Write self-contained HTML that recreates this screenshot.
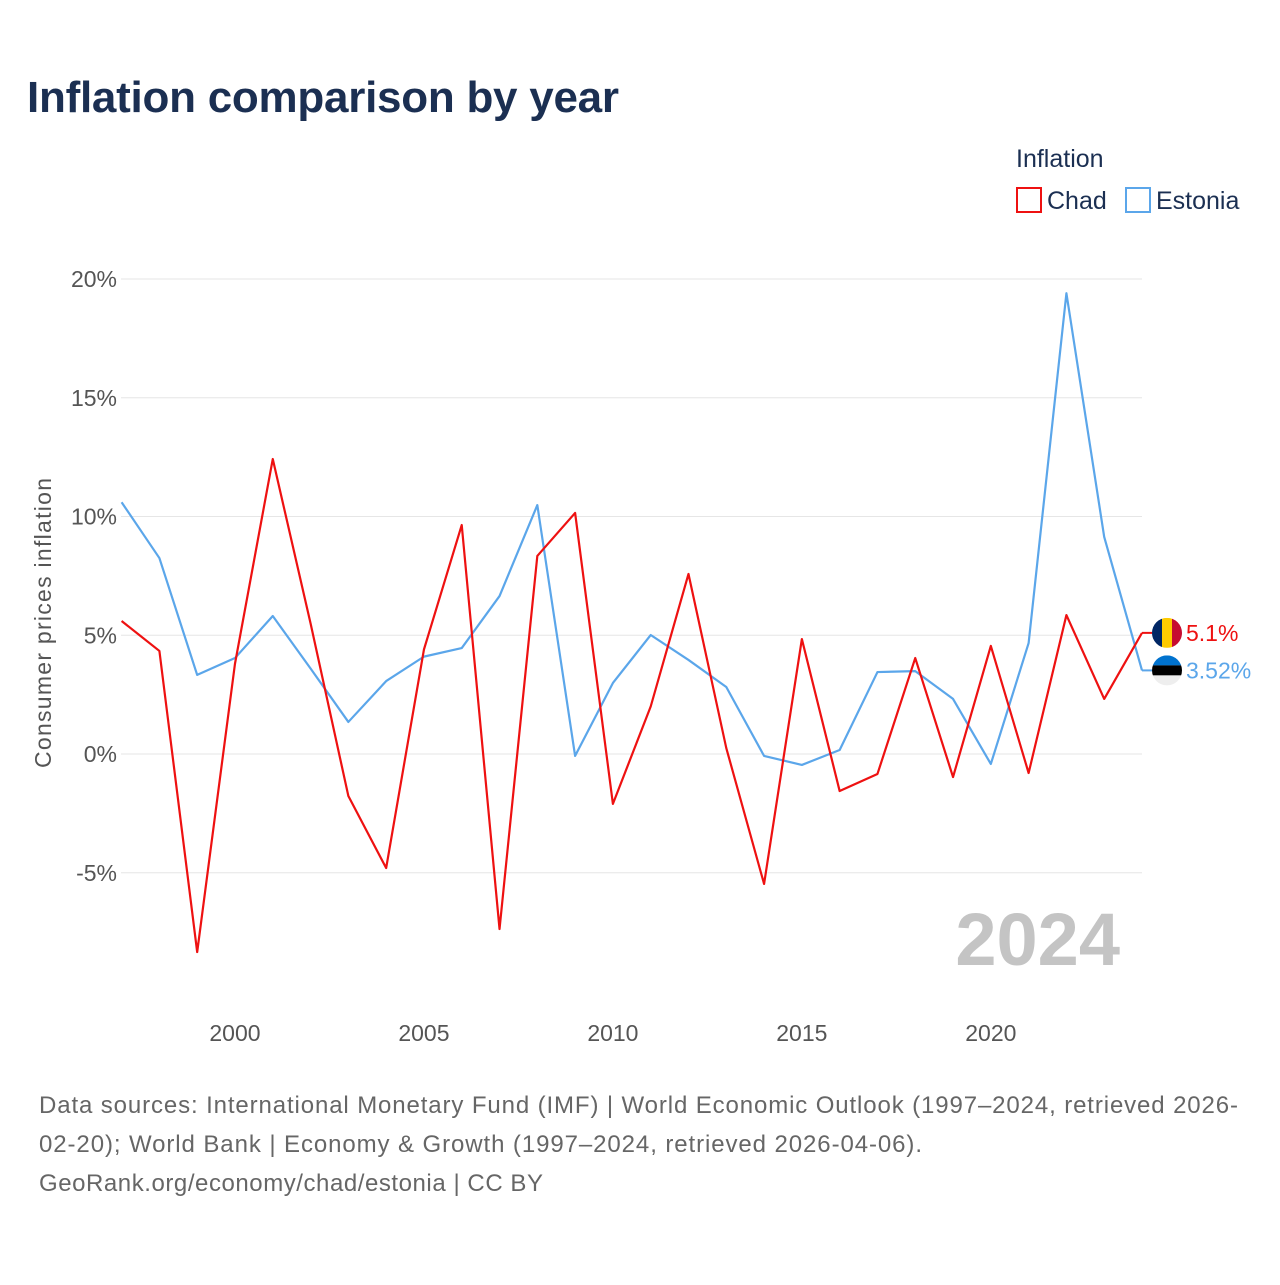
<!DOCTYPE html>
<html><head><meta charset="utf-8"><style>
body{margin:0;background:#fff;font-family:"Liberation Sans",sans-serif}
svg text{font-family:"Liberation Sans",sans-serif}
</style></head><body>
<svg id="chart" width="1280" height="1280" xmlns="http://www.w3.org/2000/svg">
<text x="27" y="112" font-size="44" font-weight="bold" fill="#1b2f52" textLength="592">Inflation comparison by year</text>
<g>
<text x="1016" y="167" font-size="25" fill="#1b2f52">Inflation</text>
<g><rect x="1017" y="188" width="24" height="24" fill="none" stroke="#ee1111" stroke-width="2"/><text x="1047" y="209" font-size="25" fill="#1b2f52">Chad</text></g>
<g><rect x="1126" y="188" width="24" height="24" fill="none" stroke="#5ba6ea" stroke-width="2"/><text x="1156" y="209" font-size="25" fill="#1b2f52">Estonia</text></g>
</g>
<g id="grid"></g>
<g id="yticks"></g>
<g id="xticks"></g>
<text transform="translate(51,623) rotate(-90)" text-anchor="middle" font-size="23" fill="#555" textLength="290">Consumer prices inflation</text>
<text x="1120" y="965" text-anchor="end" font-size="74" font-weight="bold" fill="#c4c4c4">2024</text>
<g id="series"></g>
<g font-size="24" fill="#666">
<text x="39" y="1113" textLength="1199">Data sources: International Monetary Fund (IMF) | World Economic Outlook (1997–2024, retrieved 2026-</text>
<text x="39" y="1152" textLength="883">02-20); World Bank | Economy &amp; Growth (1997–2024, retrieved 2026-04-06).</text>
<text x="39" y="1191" textLength="504">GeoRank.org/economy/chad/estonia | CC BY</text>
</g>
</svg>
<script>
const years=[1997,1998,1999,2000,2001,2002,2003,2004,2005,2006,2007,2008,2009,2010,2011,2012,2013,2014,2015,2016,2017,2018,2019,2020,2021,2022,2023,2024];
const chad=[5.6,4.34,-8.34,3.8,12.42,5.5,-1.77,-4.8,4.4,9.64,-7.37,8.34,10.15,-2.1,2.0,7.58,0.25,-5.47,4.84,-1.56,-0.84,4.04,-0.97,4.55,-0.8,5.85,2.32,5.1];
const estonia=[10.6,8.25,3.33,4.04,5.81,3.6,1.35,3.07,4.1,4.46,6.65,10.48,-0.08,2.99,5.01,3.96,2.82,-0.08,-0.46,0.17,3.45,3.49,2.32,-0.42,4.67,19.4,9.14,3.52];
const yTicks=[-5,0,5,10,15,20];
const xTicks=[2000,2005,2010,2015,2020];
const labels=["5.1%","3.52%"];
const NS="http://www.w3.org/2000/svg";
const x=v=>121.6+(v-1997)*(1142-121.6)/27;
const y=v=>754-v*23.75;
function mk(tag,attrs,parent){const e=document.createElementNS(NS,tag);for(const k in attrs)e.setAttribute(k,attrs[k]);parent.appendChild(e);return e;}
const grid=document.getElementById('grid'),yt=document.getElementById('yticks'),xt=document.getElementById('xticks'),se=document.getElementById('series');
yTicks.forEach(t=>{
 const l=mk('line',{x1:121,x2:1142,y1:y(t),y2:y(t),stroke:'#e6e6e6','stroke-width':1},grid);
 
 
 const tx=mk('text',{x:117,y:y(t)+8,'text-anchor':'end','font-size':23,fill:'#555'},yt);
 tx.textContent=t+'%';
 
 
});
xTicks.forEach(t=>{
 const tx=mk('text',{x:x(t),y:1041,'text-anchor':'middle','font-size':23,fill:'#555'},xt);
 tx.textContent=t;
 
 
});
function line(vals,color,name){
 const p=mk('polyline',{points:vals.map((v,i)=>x(years[i])+','+y(v)).join(' '),fill:'none',stroke:color,'stroke-width':2.2,'stroke-linejoin':'round'},se);
 
 
}
line(estonia,'#5ba6ea','estonia-line');
line(chad,'#ee1111','chad-line');
const last=years.length-1;
const cy1=y(chad[last]),cy2=y(estonia[last]);
mk('line',{x1:x(years[last]),y1:cy1,x2:1152,y2:cy1,stroke:'#ee1111','stroke-width':2},se);
mk('line',{x1:x(years[last]),y1:cy2,x2:1152,y2:cy2,stroke:'#5ba6ea','stroke-width':2},se);
const f1=mk('g',{},se);


const cp1=mk('clipPath',{id:'c1'},f1);mk('circle',{cx:1167,cy:cy1,r:15},cp1);
mk('rect',{x:1152,y:cy1-15,width:10,height:30,fill:'#002664','clip-path':'url(#c1)'},f1);
mk('rect',{x:1162,y:cy1-15,width:10,height:30,fill:'#fecb00','clip-path':'url(#c1)'},f1);
mk('rect',{x:1172,y:cy1-15,width:10,height:30,fill:'#c60c30','clip-path':'url(#c1)'},f1);
const f2=mk('g',{},se);


const cp=mk('clipPath',{id:'c2'},f2);mk('circle',{cx:1167,cy:cy2,r:15},cp);
mk('rect',{x:1152,y:cy2-15,width:30,height:10,fill:'#0072ce','clip-path':'url(#c2)'},f2);
mk('rect',{x:1152,y:cy2-5,width:30,height:10,fill:'#000','clip-path':'url(#c2)'},f2);
mk('rect',{x:1152,y:cy2+5,width:30,height:10,fill:'#eee','clip-path':'url(#c2)'},f2);
const l1=mk('text',{x:1186,y:cy1+8,'font-size':23,fill:'#ee1111'},se);l1.textContent=labels[0];


const l2=mk('text',{x:1186,y:cy2+8,'font-size':23,fill:'#5ba6ea'},se);l2.textContent=labels[1];


</script>
</body></html>
